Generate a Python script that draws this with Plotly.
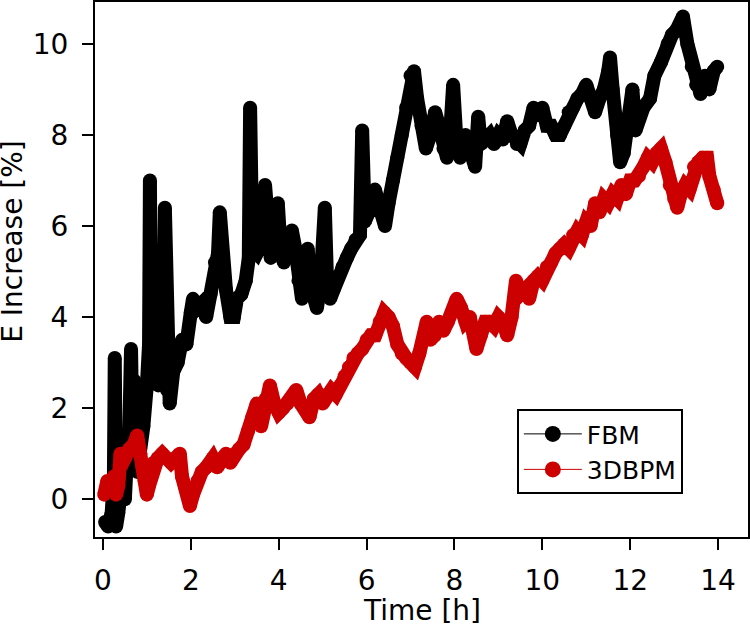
import plotly.graph_objects as go

# FBM series (time in h, energy increase in %)
fbm_t = [0.05, 0.12, 0.2, 0.25, 0.27, 0.3, 0.35, 0.42, 0.5, 0.55, 0.6, 0.64, 0.68, 0.72, 0.78,
         0.85, 0.92, 1.0, 1.05, 1.07, 1.1, 1.14, 1.18, 1.22, 1.26, 1.3, 1.36, 1.41, 1.46, 1.52,
         1.6, 1.7, 1.8, 1.9, 2.0,
         2.05, 2.15, 2.25, 2.35, 2.45, 2.55, 2.62, 2.66, 2.72, 2.8, 2.9, 2.98, 3.05, 3.15, 3.25,
         3.32, 3.35, 3.4, 3.5, 3.6, 3.69, 3.75, 3.82, 3.9, 3.98, 4.05, 4.12, 4.2, 4.3, 4.38,
         4.45, 4.53, 4.6, 4.66, 4.72, 4.8, 4.87, 4.95, 5.0, 5.05, 5.1, 5.17, 5.25, 5.35, 5.45,
         5.55, 5.65, 5.75, 5.85, 5.9, 5.96, 6.05, 6.19, 6.3, 6.42, 6.5, 6.6, 6.7, 6.8, 6.9,
         7.0, 7.08, 7.15, 7.25, 7.35, 7.45, 7.56, 7.65, 7.75, 7.83, 7.9, 7.97, 8.05, 8.13, 8.25,
         8.35, 8.47, 8.54, 8.6, 8.7, 8.8, 8.9, 9.0, 9.1, 9.2, 9.3, 9.42, 9.5, 9.6, 9.7,
         9.8, 9.9, 10.0, 10.1, 10.2, 10.3, 10.4, 10.5, 10.6, 10.7, 10.8, 10.9, 11.0, 11.1, 11.2,
         11.3, 11.4, 11.5, 11.54, 11.6, 11.7, 11.77, 11.85, 11.95, 12.05, 12.12, 12.2, 12.3, 12.45, 12.55,
         12.7, 12.85, 12.95, 13.05, 13.2, 13.3, 13.4, 13.5, 13.6, 13.7, 13.8, 13.9, 13.98]
fbm_v = [-0.5, -0.6, -0.3, 0.5, 3.1, -0.6, -0.3, 0.3, 0.0, 1.0, 1.5, 3.3, 0.9, 2.6, 0.6,
         1.0, 1.6, 2.5, 3.4, 7.0, 2.6, 3.6, 2.7, 3.5, 2.5, 3.3, 3.0, 6.4, 2.4, 2.1,
         2.8, 3.0, 3.5, 3.4, 4.1,
         4.4, 4.2, 4.3, 4.0, 4.5, 5.2, 5.4, 6.3, 5.0, 4.6, 4.0, 4.0, 4.4, 4.5, 4.8,
         5.3, 8.6, 5.5, 5.4, 5.6, 6.9, 6.0, 5.3, 5.6, 6.5, 5.4, 5.2, 5.5, 5.9, 5.5,
         4.8, 4.4, 5.0, 5.5, 4.7, 4.5, 4.2, 4.7, 5.2, 6.4, 4.8, 4.4, 4.6, 4.9, 5.1,
         5.3, 5.5, 5.7, 5.8, 8.1, 6.1, 6.3, 6.8, 6.4, 6.0, 6.5, 7.0, 7.5, 8.0, 8.6,
         9.3, 9.4, 8.8, 8.2, 7.7, 8.0, 8.5, 8.2, 7.7, 7.5, 8.0, 9.1, 7.8, 7.5, 8.0,
         7.7, 7.3, 8.4, 7.8, 7.9, 8.0, 7.8, 8.0, 7.9, 8.3, 8.0, 7.8, 7.8, 8.1, 8.2,
         8.6, 8.5, 8.6, 8.2, 8.2, 8.0, 8.0, 8.2, 8.5, 8.6, 8.8, 8.9, 9.1, 8.8, 8.5,
         8.8, 9.0, 9.4, 9.7, 9.0, 8.0, 7.4, 7.6, 8.2, 9.0, 8.1, 8.4, 8.6, 8.8, 9.3,
         9.6, 10.0, 10.2, 10.3, 10.6, 10.0, 9.5, 9.1, 8.9, 9.3, 9.0, 9.4, 9.5]

# 3DBPM series
bpm_t = [0.03, 0.1, 0.17, 0.25, 0.3, 0.35, 0.4, 0.5, 0.6, 0.7, 0.78, 0.85, 0.9, 0.95, 1.0,
         1.05, 1.15, 1.25, 1.35, 1.45, 1.55, 1.65, 1.75, 1.8, 1.9, 1.98, 2.05, 2.15, 2.25, 2.35,
         2.5, 2.6, 2.7, 2.8, 2.9, 3.0, 3.1, 3.2, 3.3, 3.4, 3.5, 3.6, 3.7, 3.8, 3.9,
         4.0, 4.1, 4.2, 4.3, 4.4, 4.5, 4.6, 4.7, 4.8, 4.9, 5.0, 5.1, 5.2, 5.3, 5.4,
         5.5, 5.6, 5.7, 5.8, 5.9, 6.0, 6.1, 6.2, 6.3, 6.4, 6.5, 6.6, 6.7, 6.8, 6.9,
         7.0, 7.1, 7.2, 7.3, 7.37, 7.45, 7.55, 7.65, 7.75, 7.85, 7.95, 8.05, 8.15, 8.25, 8.35,
         8.45, 8.5, 8.6, 8.7, 8.8, 8.9, 9.0, 9.1, 9.2, 9.3, 9.4, 9.5, 9.6, 9.7, 9.8,
         9.9, 10.0, 10.1, 10.2, 10.3, 10.4, 10.5, 10.6, 10.7, 10.8, 10.9, 11.0, 11.1, 11.2, 11.3,
         11.4, 11.5, 11.6, 11.7, 11.8, 11.9, 12.0, 12.1, 12.2, 12.3, 12.4, 12.5, 12.6, 12.7, 12.8,
         12.9, 13.0, 13.07, 13.15, 13.25, 13.35, 13.45, 13.55, 13.65, 13.75, 13.8, 13.9, 13.98]
bpm_v = [0.1, 0.4, 0.2, 0.5, 0.1, 0.3, 1.0, 0.9, 1.1, 1.2, 1.4, 1.0, 0.7, 0.4, 0.1,
         0.3, 0.8, 0.9, 1.0, 0.9, 0.8, 0.9, 1.0, 0.5, 0.2, -0.15, 0.1, 0.4, 0.6, 0.7,
         0.9, 0.7, 0.9, 1.0, 0.8, 1.0, 1.1, 1.2, 1.5, 1.8, 2.1, 1.6, 2.2, 2.5, 2.1,
         1.9, 2.0, 2.1, 2.2, 2.4, 2.1, 2.0, 1.8, 2.2, 2.3, 2.1, 2.3, 2.4, 2.3, 2.5,
         2.7, 2.9, 3.1, 3.2, 3.3, 3.5, 3.6, 3.6, 3.9, 4.1, 4.0, 3.8, 3.4, 3.2, 3.1,
         3.0, 2.9, 3.2, 3.5, 3.9, 3.5, 3.6, 3.9, 3.7, 3.9, 4.1, 4.4, 4.2, 3.9, 4.0,
         3.6, 3.3, 3.6, 3.9, 3.9, 3.8, 4.0, 3.9, 3.6, 4.0, 4.8, 4.5, 4.6, 4.4, 4.8,
         4.9, 4.8, 5.1, 5.2, 5.4, 5.5, 5.6, 5.5, 5.8, 5.9, 5.8, 6.1, 6.0, 6.5, 6.3,
         6.6, 6.5, 6.7, 6.6, 6.9, 6.7, 7.0, 7.0, 7.1, 7.3, 7.5, 7.4, 7.6, 7.7, 7.4,
         6.9, 6.6, 6.4, 6.7, 6.9, 6.8, 7.3, 7.4, 7.5, 7.5, 7.1, 6.8, 6.5]

BLACK = '#000000'
RED = '#CC0000'
FONT = 'DejaVu Sans'

fig = go.Figure()

fig.add_trace(go.Scatter(x=fbm_t, y=fbm_v, mode='lines+markers', showlegend=False,
                         line=dict(color=BLACK, width=14),
                         marker=dict(color=BLACK, size=14, line=dict(width=0))))
fig.add_trace(go.Scatter(x=bpm_t, y=bpm_v, mode='lines+markers', showlegend=False,
                         line=dict(color=RED, width=14),
                         marker=dict(color=RED, size=14, line=dict(width=0))))

# legend entries with thin line + dot, as in the original
fig.add_trace(go.Scatter(x=[None], y=[None], mode='lines+markers', name='FBM',
                         line=dict(color=BLACK, width=1),
                         marker=dict(color=BLACK, size=16, line=dict(width=0))))
fig.add_trace(go.Scatter(x=[None], y=[None], mode='lines+markers', name='3DBPM',
                         line=dict(color=RED, width=1),
                         marker=dict(color=RED, size=16, line=dict(width=0))))

axis_style = dict(showline=True, mirror=True, linecolor=BLACK, linewidth=2,
                  ticks='outside', ticklen=11, tickwidth=2, tickcolor=BLACK,
                  showgrid=False, zeroline=False, automargin=False,
                  tickfont=dict(family=FONT, size=28, color=BLACK))

fig.update_xaxes(range=[-0.18, 14.68], tickvals=[0, 2, 4, 6, 8, 10, 12, 14],
                 ticklabelstandoff=6, **axis_style)
fig.update_yaxes(range=[-0.83, 10.92], tickvals=[0, 2, 4, 6, 8, 10],
                 ticklabelstandoff=8, **axis_style)

fig.update_layout(
    width=750, height=627,
    margin=dict(l=95, r=2, t=2, b=90),
    plot_bgcolor='white', paper_bgcolor='white',
    font=dict(family=FONT, size=28, color=BLACK),
    legend=dict(x=0.646, y=0.239, xanchor='left', yanchor='top',
                bgcolor='white', bordercolor=BLACK, borderwidth=2, itemwidth=58,
                font=dict(family=FONT, size=25, color=BLACK)),
    annotations=[
        dict(text='Time [h]', xref='paper', yref='paper', x=0.5, y=-0.138,
             xanchor='center', yanchor='middle', showarrow=False,
             font=dict(family=FONT, size=28, color=BLACK)),
        dict(text='E Increase [%]', xref='paper', yref='paper', x=-0.1255, y=0.552,
             xanchor='center', yanchor='middle', textangle=-90, showarrow=False,
             font=dict(family=FONT, size=28, color=BLACK)),
    ],
)

# drop the browser's default 8px body margin so the figure sits at the page corner
fig.write_html("out.html", config={'displayModeBar': False},
               post_script="document.body.style.margin='0px';")
